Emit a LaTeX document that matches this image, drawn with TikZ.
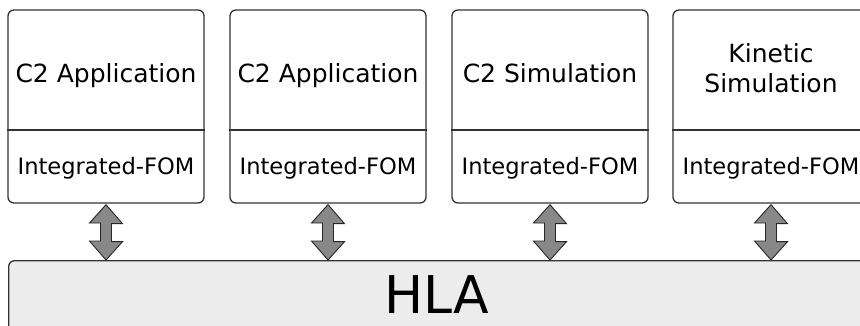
\documentclass[tikz,border=0pt]{standalone}
\usepackage{fontspec}
\setmainfont{DejaVu Sans}
\usetikzlibrary{calc}
\definecolor{edge}{HTML}{333333}
\definecolor{busfill}{HTML}{ECECEC}
\definecolor{arrowgrey}{HTML}{888888}
\tikzset{
  appbox/.style={draw=edge, line width=1.3pt, rounded corners=6pt, fill=white,
    minimum width=196pt, minimum height=193pt, inner sep=0pt},
  divider/.style={draw=edge, line width=1.1pt},
  titletext/.style={font=\fontsize{25}{30}\selectfont, align=center, inner sep=0pt},
  fomtext/.style={font=\fontsize{22.6}{26}\selectfont, inner sep=0pt},
  bus/.style={draw=edge, line width=1.3pt, rounded corners=6pt, fill=busfill,
    minimum width=861pt, minimum height=120pt, inner sep=0pt},
  bustext/.style={font=\fontsize{52}{60}\selectfont, inner sep=0pt},
  fatarrow/.style={draw=black!85, line width=0.9pt, fill=arrowgrey, line join=miter},
}
\begin{document}
\begin{tikzpicture}[x=1pt, y=-1pt]
  \useasboundingbox (0,0) rectangle (860,325);
  \clip (0,0) rectangle (860,325);

  % HLA bus
  \node[bus, anchor=north west] (hla) at (8,260) {};
  \node[bustext, anchor=base] (hlatext) at (437,313) {HLA};

  % federate boxes
  \foreach \i/\cx in {1/106, 2/328, 3/550, 4/771} {
    \node[appbox] (b\i) at (\cx,106.5) {};
    \draw[divider] (b\i.west |- 0,130) -- (b\i.east |- 0,130);
    \node[fomtext, anchor=base] (f\i) at (\cx,174) {Integrated-FOM};
  }
  \node[titletext, anchor=base] (t1) at (106,82) {C2 Application};
  \node[titletext, anchor=base] (t2) at (328,82) {C2 Application};
  \node[titletext, anchor=base] (t3) at (550,82) {C2 Simulation};
  \node[titletext, anchor=base] (t4) at (771,92) {Kinetic\\Simulation};

  % two-way connectors between each box and the bus
  \foreach \i in {1,...,4} {
    \draw[fatarrow] ($(b\i.south)+(0,1)$) -- ++(16.5,19) -- ++(-11,0) -- ++(0,18)
      -- ++(11,0) -- ($(b\i.south |- hla.north)$) -- ++(-16.5,-19) -- ++(11,0)
      -- ++(0,-18) -- ++(-11,0) -- cycle;
  }
\end{tikzpicture}
\end{document}
